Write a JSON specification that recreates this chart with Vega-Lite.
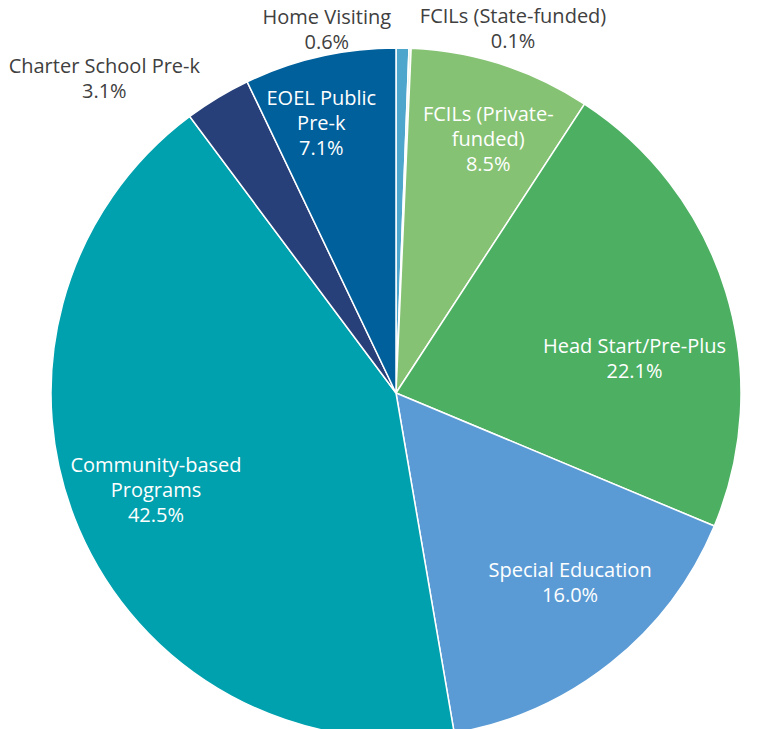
{
  "$schema": "https://vega.github.io/schema/vega-lite/v6.json",
  "width": 726,
  "height": 672,
  "autosize": {"type": "none"},
  "padding": {"left": 33, "top": 57, "right": 0, "bottom": 0},
  "background": "white",
  "config": {"view": {"stroke": null}, "text": {"font": "Open Sans"}},
  "data": {
    "values": [
      {"idx": 1, "category": "Home Visiting", "value": 0.6, "label": "Home Visiting\n0.6%"},
      {"idx": 2, "category": "FCILs (State-funded)", "value": 0.1, "label": "FCILs (State-funded)\n0.1%"},
      {"idx": 3, "category": "FCILs (Private-funded)", "value": 8.5, "label": "FCILs (Private-\nfunded)\n8.5%"},
      {"idx": 4, "category": "Head Start/Pre-Plus", "value": 22.1, "label": "Head Start/Pre-Plus\n22.1%"},
      {"idx": 5, "category": "Special Education", "value": 16.0, "label": "Special Education\n16.0%"},
      {"idx": 6, "category": "Community-based Programs", "value": 42.5, "label": "Community-based\nPrograms\n42.5%"},
      {"idx": 7, "category": "Charter School Pre-k", "value": 3.1, "label": "Charter School Pre-k\n3.1%"},
      {"idx": 8, "category": "EOEL Public Pre-k", "value": 7.1, "label": "EOEL Public\nPre-k\n7.1%"}
    ]
  },
  "encoding": {
    "theta": {"field": "value", "type": "quantitative", "stack": true},
    "order": {"field": "idx", "type": "quantitative"},
    "color": {
      "field": "category",
      "type": "nominal",
      "legend": null,
      "scale": {
        "domain": ["Home Visiting", "FCILs (State-funded)", "FCILs (Private-funded)", "Head Start/Pre-Plus", "Special Education", "Community-based Programs", "Charter School Pre-k", "EOEL Public Pre-k"],
        "range": ["#4FA6CC", "#DCEBD3", "#86C273", "#4CAF62", "#5B9BD5", "#00A1AE", "#27407A", "#00609C"]
      }
    }
  },
  "layer": [
    {"mark": {"type": "arc", "outerRadius": 345, "stroke": "white", "strokeWidth": 1.5}},
    {
      "mark": {"type": "text", "radius": 362, "dx": -76, "dy": -13, "fontSize": 20, "lineBreak": "\n", "lineHeight": 25, "baseline": "middle"},
      "encoding": {"color": {"value": "#404040"}, "text": {"condition": {"test": "datum.category === 'Home Visiting'", "field": "label"}, "value": ""}}
    },
    {
      "mark": {"type": "text", "radius": 368, "dx": 102, "dy": -8, "fontSize": 20, "lineBreak": "\n", "lineHeight": 25, "baseline": "middle"},
      "encoding": {"color": {"value": "#404040"}, "text": {"condition": {"test": "datum.category === 'FCILs (State-funded)'", "field": "label"}, "value": ""}}
    },
    {
      "mark": {"type": "text", "radius": 272, "dx": 9, "dy": -19, "fontSize": 20, "lineBreak": "\n", "lineHeight": 25, "baseline": "middle"},
      "encoding": {"color": {"value": "white"}, "text": {"condition": {"test": "datum.category === 'FCILs (Private-funded)'", "field": "label"}, "value": ""}}
    },
    {
      "mark": {"type": "text", "radius": 237, "dx": 12, "dy": 24, "fontSize": 20, "lineBreak": "\n", "lineHeight": 25, "baseline": "middle"},
      "encoding": {"color": {"value": "white"}, "text": {"condition": {"test": "datum.category === 'Head Start/Pre-Plus'", "field": "label"}, "value": ""}}
    },
    {
      "mark": {"type": "text", "radius": 257, "dx": 14, "dy": -23, "fontSize": 20, "lineBreak": "\n", "lineHeight": 25, "baseline": "middle"},
      "encoding": {"color": {"value": "white"}, "text": {"condition": {"test": "datum.category === 'Special Education'", "field": "label"}, "value": ""}}
    },
    {
      "mark": {"type": "text", "radius": 259, "dx": -2, "dy": -29, "fontSize": 20, "lineBreak": "\n", "lineHeight": 25, "baseline": "middle"},
      "encoding": {"color": {"value": "white"}, "text": {"condition": {"test": "datum.category === 'Community-based Programs'", "field": "label"}, "value": ""}}
    },
    {
      "mark": {"type": "text", "radius": 419, "dx": -75, "dy": 33, "fontSize": 20, "lineBreak": "\n", "lineHeight": 25, "baseline": "middle"},
      "encoding": {"color": {"value": "#404040"}, "text": {"condition": {"test": "datum.category === 'Charter School Pre-k'", "field": "label"}, "value": ""}}
    },
    {
      "mark": {"type": "text", "radius": 279, "dx": -13, "dy": -22, "fontSize": 20, "lineBreak": "\n", "lineHeight": 25, "baseline": "middle"},
      "encoding": {"color": {"value": "white"}, "text": {"condition": {"test": "datum.category === 'EOEL Public Pre-k'", "field": "label"}, "value": ""}}
    }
  ]
}
